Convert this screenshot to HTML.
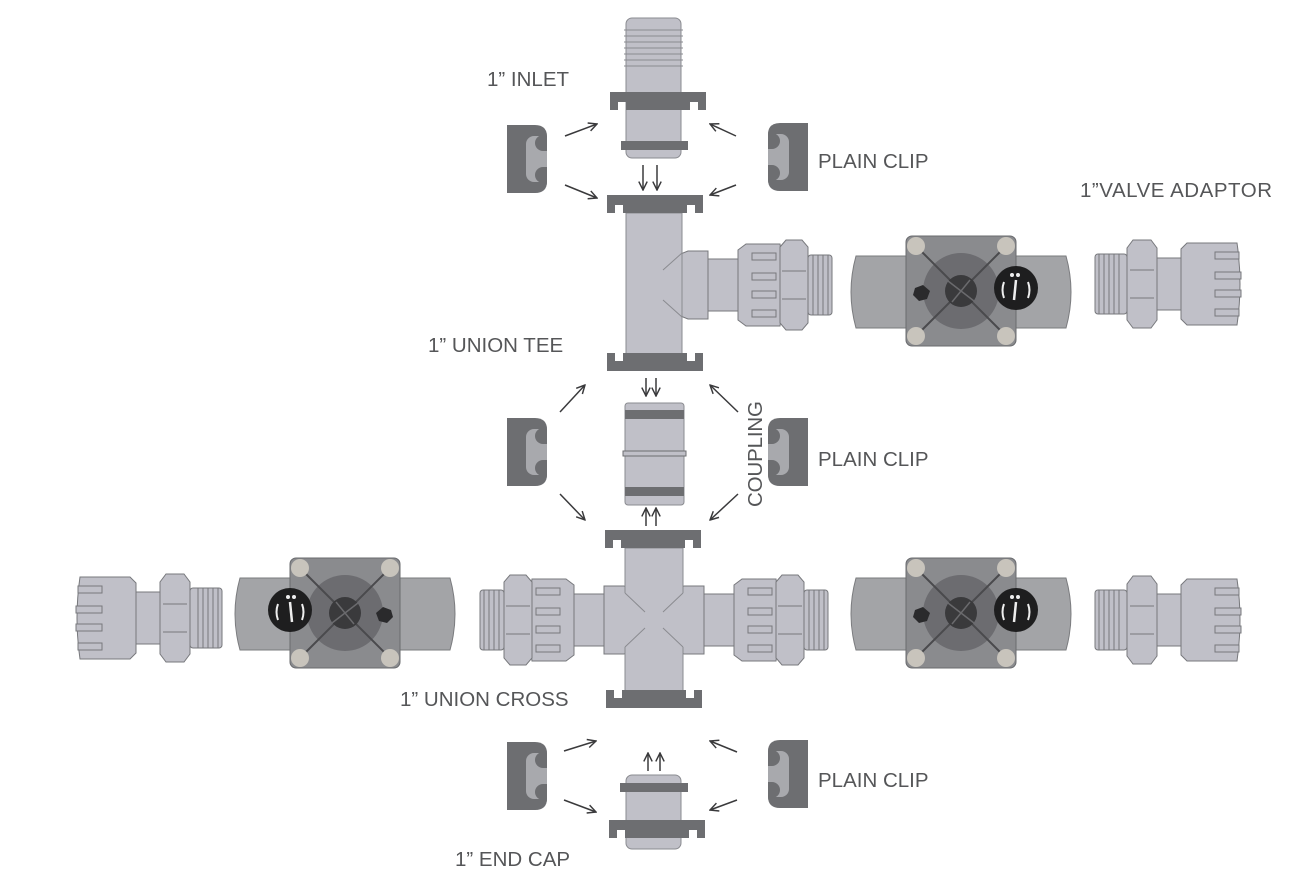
<!DOCTYPE html>
<html><head><meta charset="utf-8"><style>
html,body{margin:0;padding:0;background:#fff}
svg{display:block}
text{font-family:"Liberation Sans",sans-serif;fill:#555658;font-size:20.5px}
</style></head><body>
<svg width="1307" height="885" viewBox="0 0 1307 885" xmlns="http://www.w3.org/2000/svg">
<defs>
<marker id="ah" viewBox="0 0 10 10" refX="9" refY="5" markerWidth="7" markerHeight="7" orient="auto"><path d="M1,1 L9,5 L1,9" fill="none" stroke="#3a3a3c" stroke-width="1.4"/></marker>
<clipPath id="cc"><path d="M0,0 H28 Q40,0 40,12 V56 Q40,68 28,68 H0 Z"/></clipPath>
<g id="clipL">
<g clip-path="url(#cc)">
<rect x="0" y="0" width="40" height="68" fill="#6d6e71"/>
<rect x="19" y="11" width="25" height="46" rx="8" fill="#a8a9ad"/>
<circle cx="36" cy="18" r="8" fill="#6d6e71"/>
<circle cx="36" cy="50" r="8" fill="#6d6e71"/>
<rect x="36" y="0" width="6" height="26" fill="#6d6e71"/>
<rect x="36" y="42" width="6" height="26" fill="#6d6e71"/>
</g>
</g>
<g id="flange">
<path d="M0,0 H96 V18 H88 V10 H80 V18 H16 V10 H8 V18 H0 Z" fill="#6d6e71"/>
</g>
<g id="valve">
<path d="M-50,20 H2 V92 H-50 Q-60,56 -50,20 Z" fill="#a3a4a7" stroke="#7a7b7e"/>
<path d="M108,20 H160 Q170,56 160,92 H108 Z" fill="#a3a4a7" stroke="#7a7b7e"/>
<rect x="0" y="0" width="110" height="110" rx="6" fill="#8a8b8e" stroke="#6a6b6e"/>
<circle cx="55" cy="55" r="38" fill="#6c6c70"/>
<line x1="10" y1="10" x2="100" y2="100" stroke="#4a4a4d" stroke-width="2"/>
<line x1="100" y1="10" x2="10" y2="100" stroke="#4a4a4d" stroke-width="2"/>
<circle cx="10" cy="10" r="9" fill="#c8c4bc"/><circle cx="100" cy="10" r="9" fill="#c8c4bc"/>
<circle cx="10" cy="100" r="9" fill="#c8c4bc"/><circle cx="100" cy="100" r="9" fill="#c8c4bc"/>
<circle cx="55" cy="55" r="16" fill="#3a3a3c"/>
<line x1="42" y1="45" x2="68" y2="65" stroke="#6a6a6d" stroke-width="1.5"/>
<line x1="46" y1="66" x2="64" y2="44" stroke="#6a6a6d" stroke-width="1.5"/>
<path d="M9,52 L17,49 L24,55 L21,63 L13,65 L7,59 Z" fill="#2a2a2c"/>
<circle cx="110" cy="52" r="22" fill="#1e1e1f"/>
<line x1="110" y1="44" x2="108" y2="64" stroke="#eee" stroke-width="2.5"/>
<circle cx="106" cy="39" r="2" fill="#eee"/><circle cx="112" cy="39" r="2" fill="#eee"/>
<path d="M98,46 Q95,54 98,62" fill="none" stroke="#eee" stroke-width="2"/>
<path d="M122,46 Q125,54 122,62" fill="none" stroke="#eee" stroke-width="2"/>
</g>
<g id="adapt" stroke="#77787c" stroke-width="1" fill="#c0c0c8">
<rect x="0" y="-30" width="32" height="60" rx="3"/>
<path d="M4,-30 V30 M9,-30 V30 M14,-30 V30 M19,-30 V30 M24,-30 V30" fill="none"/>
<path d="M32,-36 L38,-44 H56 L62,-36 V36 L56,44 H38 L32,36 Z"/>
<path d="M35,-14 H59 M35,14 H59" fill="none"/>
<path d="M62,-26 H88 V26 H62 Z"/>
<path d="M86,-35 L92,-41 H142 Q148,0 142,41 H92 L86,35 Z"/>
<path d="M120,-32 H144 V-25 H120 Z M120,-12 H146 V-5 H120 Z M120,6 H146 V13 H120 Z M120,25 H144 V32 H120 Z"/>
</g>
<g id="arm" stroke="#77787c" stroke-width="1" fill="#c0c0c8">
<path d="M0,-26 L20,-34 H40 V34 H20 L0,26 Z"/>
<path d="M40,-26 H70 V26 H40 Z"/>
<path d="M70,-35 L78,-41 H112 Q118,0 112,41 H78 L70,35 Z"/>
<path d="M84,-32 H108 V-25 H84 Z M84,-12 H108 V-5 H84 Z M84,6 H108 V13 H84 Z M84,25 H108 V32 H84 Z"/>
<path d="M112,-38 L118,-45 H134 L140,-38 V38 L134,45 H118 L112,38 Z"/>
<path d="M114,-14 H138 M114,14 H138" fill="none"/>
<rect x="140" y="-30" width="24" height="60" rx="3"/>
<path d="M145,-30 V30 M150,-30 V30 M155,-30 V30 M160,-30 V30" fill="none"/>
</g>
</defs>

<!-- INLET -->
<rect x="626" y="18" width="55" height="140" rx="6" fill="#c0c0c8" stroke="#8a8b90"/>
<path d="M624,30 H683 M624,36 H683 M624,42 H683 M624,48 H683 M624,54 H683 M624,60 H683 M624,66 H683" stroke="#8a8b90"/>
<use href="#flange" x="610" y="92"/>
<rect x="621" y="141" width="67" height="9" fill="#6d6e71"/>

<!-- Tee -->
<use href="#arm" transform="translate(668,285)"/>
<rect x="626" y="213" width="56" height="142" fill="#c0c0c8" stroke="#8a8b90"/>
<path d="M682,253 L663,270 M682,317 L663,300" stroke="#8a8b90"/>
<use href="#flange" x="607" y="195"/>
<use href="#flange" transform="translate(703,371) scale(-1,-1)"/>

<!-- Coupling -->
<rect x="625" y="403" width="59" height="102" rx="3" fill="#c0c0c8" stroke="#8a8b90"/>
<rect x="625" y="410" width="59" height="9" fill="#6d6e71"/>
<rect x="623" y="451" width="63" height="5" fill="#c0c0c8" stroke="#6d6e71"/>
<rect x="625" y="487" width="59" height="9" fill="#6d6e71"/>

<!-- Cross -->
<use href="#arm" transform="translate(664,620)"/>
<use href="#arm" transform="translate(644,620) scale(-1,1)"/>
<rect x="625" y="548" width="58" height="143" fill="#c0c0c8" stroke="#8a8b90"/>
<rect x="610" y="593" width="88" height="54" fill="#c0c0c8"/>
<path d="M625,593 L645,612 M683,593 L663,612 M625,647 L645,628 M683,647 L663,628" stroke="#8a8b90"/>
<use href="#flange" x="605" y="530"/>
<use href="#flange" transform="translate(702,708) scale(-1,-1)"/>

<!-- End cap -->
<rect x="626" y="775" width="55" height="74" rx="6" fill="#c0c0c8" stroke="#8a8b90"/>
<rect x="620" y="783" width="68" height="9" fill="#6d6e71"/>
<use href="#flange" x="609" y="820"/>

<!-- Valves -->
<use href="#valve" x="906" y="236"/>
<use href="#valve" x="906" y="558"/>
<use href="#valve" transform="translate(400,558) scale(-1,1)"/>
<use href="#adapt" transform="translate(1095,284)"/>
<use href="#adapt" transform="translate(1095,620)"/>
<use href="#adapt" transform="translate(222,618) scale(-1,1)"/>

<!-- Clips -->
<use href="#clipL" x="507" y="125"/>
<use href="#clipL" transform="translate(808,123) scale(-1,1)"/>
<use href="#clipL" x="507" y="418"/>
<use href="#clipL" transform="translate(808,418) scale(-1,1)"/>
<use href="#clipL" x="507" y="742"/>
<use href="#clipL" transform="translate(808,740) scale(-1,1)"/>

<!-- Arrows -->
<g stroke="#3a3a3c" stroke-width="1.5" marker-end="url(#ah)">
<line x1="565" y1="136" x2="597" y2="124"/>
<line x1="565" y1="185" x2="597" y2="198"/>
<line x1="736" y1="136" x2="710" y2="124"/>
<line x1="736" y1="185" x2="710" y2="195"/>
<line x1="643" y1="165" x2="643" y2="190"/>
<line x1="657" y1="165" x2="657" y2="190"/>
<line x1="560" y1="412" x2="585" y2="385"/>
<line x1="560" y1="494" x2="585" y2="520"/>
<line x1="738" y1="412" x2="710" y2="385"/>
<line x1="738" y1="494" x2="710" y2="520"/>
<line x1="646" y1="378" x2="646" y2="396"/>
<line x1="656" y1="378" x2="656" y2="396"/>
<line x1="646" y1="526" x2="646" y2="508"/>
<line x1="656" y1="526" x2="656" y2="508"/>
<line x1="564" y1="751" x2="596" y2="741"/>
<line x1="564" y1="800" x2="596" y2="812"/>
<line x1="737" y1="752" x2="710" y2="741"/>
<line x1="737" y1="800" x2="710" y2="810"/>
<line x1="648" y1="771" x2="648" y2="753"/>
<line x1="660" y1="771" x2="660" y2="753"/>
</g>

<!-- Labels -->
<text x="487" y="86">1” INLET</text>
<text x="818" y="168">PLAIN CLIP</text>
<text x="1080" y="197" textLength="192">1”VALVE ADAPTOR</text>
<text x="428" y="352">1” UNION TEE</text>
<text x="818" y="466">PLAIN CLIP</text>
<text transform="translate(762,507) rotate(-90)" textLength="106">COUPLING</text>
<text x="400" y="706">1” UNION CROSS</text>
<text x="818" y="787">PLAIN CLIP</text>
<text x="455" y="866">1” END CAP</text>
</svg>
</body></html>
